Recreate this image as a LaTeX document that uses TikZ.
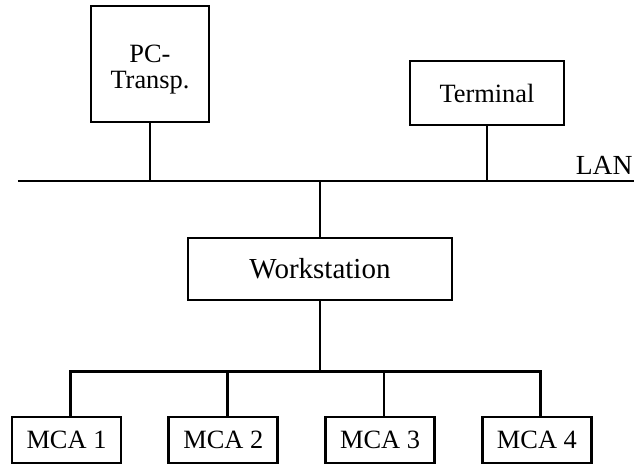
\documentclass[tikz,border=0pt]{standalone}
\usepackage{fontspec}
\setmainfont{Liberation Serif}
\usetikzlibrary{positioning, calc}

\begin{document}
\begin{tikzpicture}[x=0.5pt, y=-0.5pt, line width=1.4pt, node distance=22.5pt,
      every node/.style={font=\fontsize{13.2}{13}\selectfont, inner sep=2pt},
      unit/.style={draw, minimum width=54.5pt, minimum height=23pt}]
      \useasboundingbox (0,0) rectangle (634,465);
      \node[draw, minimum width=59pt, minimum height=58pt, align=center, text height=27.6pt, text depth=2.6pt] (pc) at (150,64) {PC-\\Transp.};
      \node[draw, minimum width=77pt, minimum height=32pt] (term) at (487,93) {Terminal};
      \coordinate (lanL) at (18,181);
      \coordinate (lanR) at (634,181);
      \node[anchor=south east, inner sep=0pt, font=\fontsize{13.8}{14}\selectfont] (lan) at (634,176) {LAN};
      \node[draw, minimum width=132pt, minimum height=31pt, font=\fontsize{14.5}{15}\selectfont] (ws) at (320,269) {Workstation};
      \node[unit] (m1) at (66.5,440) {MCA 1};
      \node[unit, right=of m1] (m2) {MCA 2};
      \node[unit, right=of m2] (m3) {MCA 3};
      \node[unit, right=of m3] (m4) {MCA 4};
      \coordinate (bus) at ($(ws.south)+(0,70)$);
      \draw (lanL) -- (lanR);
      \draw (pc.south) -- (pc.south |- lanL);
      \draw (term.south) -- (term.south |- lanL);
      \draw (ws.north) -- (ws.north |- lanL);
      \draw (ws.south) -- (bus);
      \draw ([xshift=2pt]m1.north) |- (bus) -| ([xshift=2pt]m4.north);
      \draw ([xshift=2pt]m2.north) -- ([xshift=2pt]m2.north |- bus);
      \draw ([xshift=2pt]m3.north) -- ([xshift=2pt]m3.north |- bus);
    \end{tikzpicture}
\end{document}
